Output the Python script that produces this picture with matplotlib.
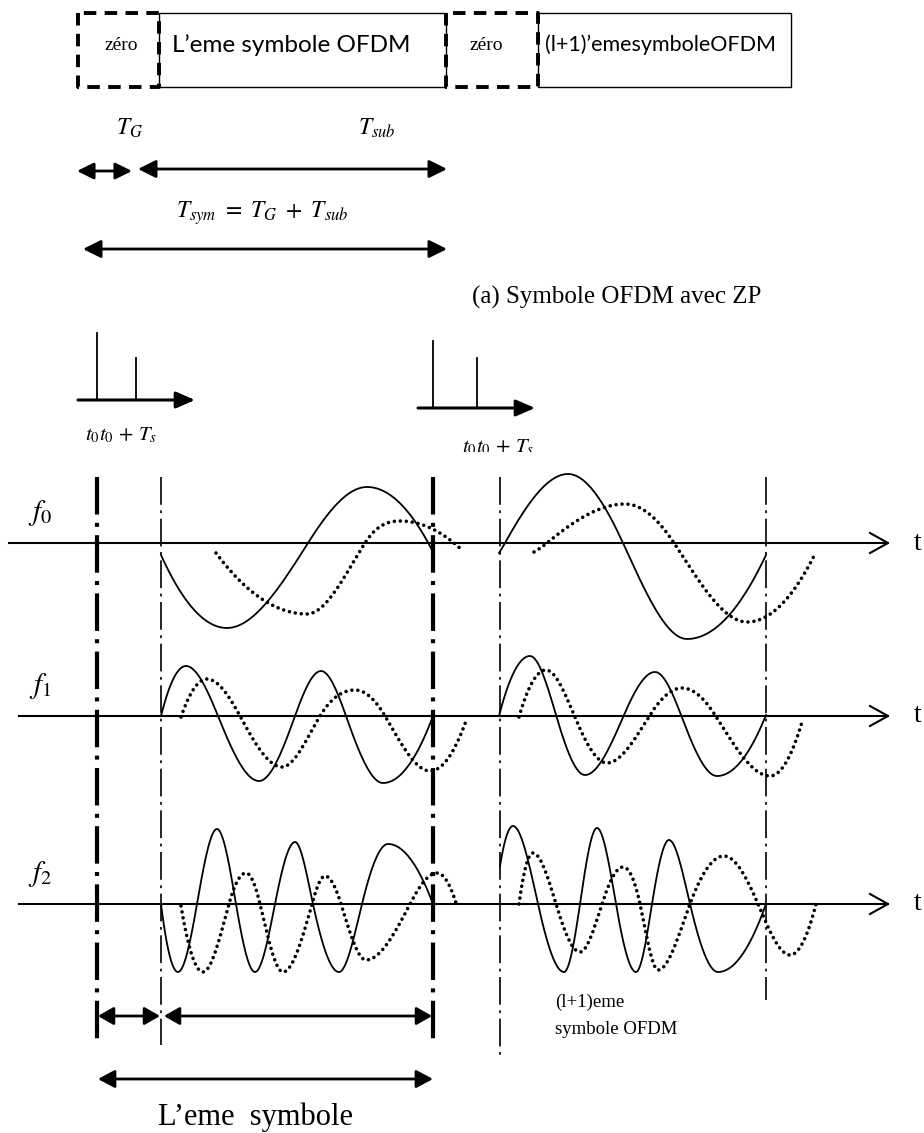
import numpy as np
import matplotlib

matplotlib.use("Agg")
import matplotlib.pyplot as plt
from matplotlib.patches import Rectangle
from matplotlib.transforms import Bbox, TransformedBbox

plt.rcParams["lines.scale_dashes"] = False
plt.rcParams["mathtext.fontset"] = "stix"

W, H = 924, 1133
PT = 0.72  # points per pixel at dpi 100

# --- top frame: box edges (x) and texts -----------------------------------
box_edges = [78, 159, 446, 538, 791]
box_kinds = ["dashed", "solid", "dashed", "solid"]
box_texts = ["zéro", "L’eme symbole OFDM", "zéro", "(l+1)’emesymboleOFDM"]

# --- symbol boundaries in the lower part ----------------------------------
guard_x = [97, 433]          # thick dash-dot lines
sub_x = [161, 500, 766]      # thin dash-dot lines
axis_y = {"f_0": 543, "f_1": 716, "f_2": 904}

# --- waveforms, knots (x, y) -----------------------------------------------
f0_solid = [
    [(161, 555), (227, 628), (308, 543), (367, 487), (433, 552)],
    [(499, 553), (505, 543), (568, 474), (623, 543), (687, 639), (766, 555)],
]
f0_dots = [
    [(216, 553), (307, 614), (365, 543), (400, 521), (463, 551)],
    [(534, 552), (547, 543), (625, 504), (674, 543), (747, 622), (814, 556)],
]
f1_solid = [
    [(161, 716), (186, 666), (218, 716), (259, 781), (295, 716), (321, 671),
     (346, 716), (383, 783), (433, 716)],
    [(499, 716), (530, 656), (556, 715), (585, 775), (624, 715), (655, 672),
     (681, 715), (717, 776), (766, 715)],
]
f1_dots = [
    [(181, 717), (207, 679), (240, 716), (282, 767), (320, 716), (355, 690),
     (385, 716), (430, 771), (466, 721)],
    [(519, 717), (546, 670), (574, 715), (607, 763), (650, 715), (682, 688),
     (715, 715), (770, 776), (802, 722)],
]
f2_solid = [
    [(161, 904), (178, 972), (197, 904), (217, 829), (236, 904), (255, 972),
     (275, 904), (295, 842), (313, 904), (339, 972), (362, 904), (388, 844),
     (433, 904)],
    [(500, 866), (513, 826), (538, 904), (564, 972), (580, 904), (597, 828),
     (616, 904), (636, 972), (652, 904), (669, 840), (690, 904), (718, 972),
     (766, 904)],
]
f2_dots = [
    [(181, 906), (203, 972), (229, 904), (246, 873), (260, 904), (283, 972),
     (312, 904), (325, 876), (341, 904), (366, 960), (410, 904), (437, 873),
     (457, 906)],
    [(519, 904), (533, 853), (556, 904), (580, 952), (602, 904), (623, 867),
     (640, 904), (658, 970), (690, 904), (724, 856), (758, 904), (790, 955),
     (816, 904)],
]


def smooth(pts, n=30):
    p = np.asarray(pts, float)
    x, y = p[:, 0], p[:, 1]
    k = len(x)
    m = np.zeros(k)
    for i in range(1, k - 1):
        if (y[i] - y[i - 1]) * (y[i + 1] - y[i]) > 0:
            m[i] = np.pi / 2 * (y[i + 1] - y[i - 1]) / (x[i + 1] - x[i - 1])
    m[0] = 2 * (y[1] - y[0]) / (x[1] - x[0]) - m[1]
    m[-1] = 2 * (y[-1] - y[-2]) / (x[-1] - x[-2]) - m[-2]
    xs, ys = [], []
    for i in range(k - 1):
        h = x[i + 1] - x[i]
        t = np.linspace(0, 1, n)
        h00 = 2 * t**3 - 3 * t**2 + 1
        h10 = t**3 - 2 * t**2 + t
        h01 = -2 * t**3 + 3 * t**2
        h11 = t**3 - t**2
        xs.append(x[i] + h * t)
        ys.append(h00 * y[i] + h10 * h * m[i] + h01 * y[i + 1] + h11 * h * m[i + 1])
    return np.concatenate(xs), np.concatenate(ys)


def darrow(ax, x0, x1, y, hl=15, hw=15, lw=2.0):
    ax.annotate("", xy=(x1, y), xytext=(x0, y),
                arrowprops=dict(arrowstyle=f"<|-|>,head_length={hl * PT / 10:.2f},"
                                f"head_width={hw / 2 * PT / 10:.2f}",
                                lw=lw, color="black", shrinkA=0, shrinkB=0))


fig = plt.figure(figsize=(W / 100, H / 100), dpi=100)
ax = fig.add_axes([0, 0, 1, 1])
ax.set_xlim(0, W)
ax.set_ylim(H, 0)
ax.axis("off")

# top boxes
top, bot = 13, 87
for (x0, x1), kind in zip(zip(box_edges[:-1], box_edges[1:]), box_kinds):
    if kind == "solid":
        ax.add_patch(Rectangle((x0, top), x1 - x0, bot - top, fill=False,
                               lw=1.0, ec="black", zorder=2))
for (x0, x1), kind in zip(zip(box_edges[:-1], box_edges[1:]), box_kinds):
    if kind == "dashed":
        ax.plot([x0, x0, x1, x1, x0], [top, bot, bot, top, top], color="black",
                lw=2.8, dashes=(9, 6), solid_capstyle="butt", zorder=3)

ax.text(121, 45, box_texts[0], ha="center", va="center", fontsize=14,
        family="Liberation Serif")
ax.text(172, 45, box_texts[1], ha="left", va="center", fontsize=17.5, family="Lato")
ax.text(486, 45, box_texts[2], ha="center", va="center", fontsize=14,
        family="Liberation Serif")
ax.text(545, 45, box_texts[3], ha="left", va="center", fontsize=15.5, family="Lato")

# top duration arrows
ax.text(130, 128, r"$T_G$", ha="center", va="center", fontsize=17)
ax.text(377, 128, r"$T_{sub}$", ha="center", va="center", fontsize=17)
darrow(ax, 77, 132, 171, hl=14, hw=14)
darrow(ax, 138, 447, 169)
ax.text(262, 213, r"$T_{sym}\ =\ T_G\ +\ T_{sub}$", ha="center", va="center",
        fontsize=17)
darrow(ax, 83, 447, 249)
ax.text(472, 297, "(a) Symbole OFDM avec ZP", ha="left", va="center", fontsize=18,
        family="Liberation Serif")

# impulse sketches
for ax0, ay, ix, lab_x, lab_y in [
    (78, 400, [(97, 333), (136, 358)], 121, 435),
    (418, 408, [(433, 341), (477, 358)], 498, 447),
]:
    ax.annotate("", xy=(ax0 + 117, ay), xytext=(ax0, ay),
                arrowprops=dict(arrowstyle="-|>,head_length=1.15,head_width=0.5",
                                lw=2.2, color="black", shrinkA=0, shrinkB=0))
    for px, py in ix:
        ax.plot([px, px], [ay, py], color="black", lw=1.3)
    t = ax.text(lab_x, lab_y, r"$t_0t_0\,+\,T_s$", ha="center", va="center",
                fontsize=15)
    t.set_clip_box(TransformedBbox(Bbox([[0, 0], [W, 452]]), ax.transData))
    t.set_clip_on(True)

# time axes
for name, y in axis_y.items():
    x_start = 9 if name == "f_0" else 19
    ax.plot([x_start, 888], [y, y], color="black", lw=1.5)
    ax.plot([870, 888, 870], [y - 10, y, y + 10], color="black", lw=1.5)
    ax.text(918, y, "t", ha="center", va="center", fontsize=20,
            family="Liberation Serif")
    ax.text(40, y - 30, f"${name}$", ha="center", va="center", fontsize=21)

# symbol boundaries
for gx in guard_x:
    ax.plot([gx, gx], [477, 1045], color="black", lw=3.0,
            dashes=(27, 6, 2.9, 6), dash_capstyle="butt")
for sx, yb in zip(sub_x, [1045, 1057, 1000]):
    ax.plot([sx, sx], [477, yb], color="black", lw=1.2,
            dashes=(20, 4, 2, 4), dash_capstyle="butt")

# waveforms
for solid, dots in [(f0_solid, f0_dots), (f1_solid, f1_dots), (f2_solid, f2_dots)]:
    for pts in solid:
        xs, ys = smooth(pts)
        ax.plot(xs, ys, color="black", lw=1.3)
    for pts in dots:
        xs, ys = smooth(pts)
        ax.plot(xs, ys, color="black", lw=2.6, dashes=(0.01, 4.3),
                dash_capstyle="round")

# bottom arrows and labels
darrow(ax, 98, 160, 1016, hl=13, hw=15)
darrow(ax, 164, 432, 1016, hl=13, hw=15)
darrow(ax, 98, 433, 1079, hl=14, hw=15)
ax.text(256, 1117, "L’eme  symbole", ha="center", va="center", fontsize=22,
        family="Liberation Serif")
ax.text(555, 1002, "(l+1)eme", ha="left", va="center", fontsize=13.5,
        family="Liberation Serif")
ax.text(555, 1030, "symbole OFDM", ha="left", va="center", fontsize=13.5,
        family="Liberation Serif")

fig.savefig("out.png", dpi=100)
